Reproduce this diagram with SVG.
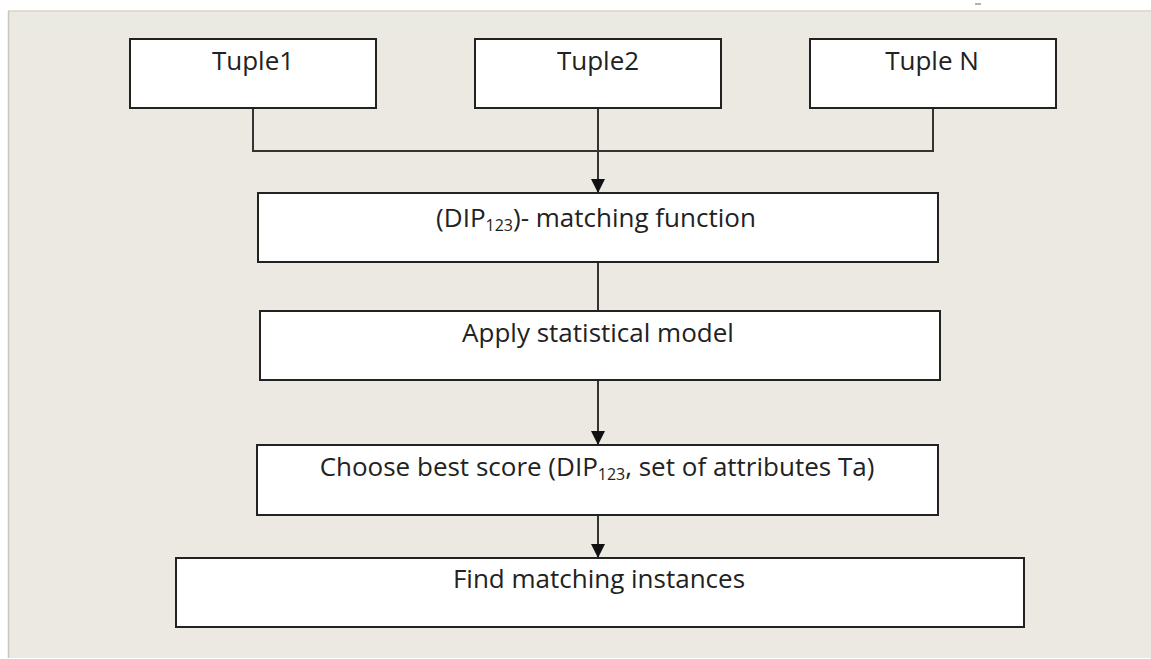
<svg xmlns="http://www.w3.org/2000/svg" width="1151" height="659" viewBox="0 0 1151 659">
<style>
.box{fill:#ffffff;stroke:#222222;stroke-width:2}
.lbl{font-family:"Open Sans","Liberation Sans",sans-serif;font-size:26px;fill:#222222;text-anchor:middle}
.sub{font-size:16px}
.conn{fill:none;stroke:#333333;stroke-width:2}
</style>
<defs>
<marker id="ah" markerUnits="userSpaceOnUse" markerWidth="16" markerHeight="16" viewBox="0 0 16 16" refX="15" refY="8" orient="auto">
<path d="M1,1 L15,8 L1,15 Z" fill="#111111"/>
</marker>
</defs>
<rect x="0" y="0" width="1151" height="659" fill="#ffffff"/>
<rect x="8" y="11" width="1143" height="647" fill="#ECE9E2"/>
<rect x="8" y="11" width="1143" height="16" fill="#EAEAE2"/>
<line x1="8" y1="11" x2="1151" y2="11" stroke="#E2CFCB" stroke-width="1.5"/>
<line x1="8.5" y1="11" x2="8.5" y2="658" stroke="#C9C6C0" stroke-width="1.5"/>
<line x1="975" y1="4" x2="981" y2="4" stroke="#9a9a9a" stroke-width="1.5"/>
<g id="connectors">
<polyline class="conn" points="253,108 253,151 933,151 933,108"/>
<line class="conn" x1="598" y1="108" x2="598" y2="193" marker-end="url(#ah)"/>
<line class="conn" x1="598" y1="262" x2="598" y2="311"/>
<line class="conn" x1="598" y1="380" x2="598" y2="445" marker-end="url(#ah)"/>
<line class="conn" x1="598" y1="515" x2="598" y2="558" marker-end="url(#ah)"/>
</g>
<g id="tuple1">
<rect class="box" x="130" y="39" width="246" height="69"/>
<text class="lbl" x="253" y="70">Tuple1</text>
</g>
<g id="tuple2">
<rect class="box" x="475" y="39" width="246" height="69"/>
<text class="lbl" x="598" y="70">Tuple2</text>
</g>
<g id="tupleN">
<rect class="box" x="810" y="39" width="246" height="69"/>
<text class="lbl" x="932" y="70">Tuple N</text>
</g>
<g id="matching">
<rect class="box" x="258" y="193" width="680" height="69"/>
<text class="lbl" x="596" y="227">(DIP<tspan class="sub" dy="4">123</tspan><tspan dy="-4">)- matching function</tspan></text>
</g>
<g id="statistical">
<rect class="box" x="260" y="311" width="680" height="69"/>
<text class="lbl" x="598" y="342">Apply statistical model</text>
</g>
<g id="bestscore">
<rect class="box" x="257" y="445" width="681" height="70"/>
<text class="lbl" x="597" y="476">Choose best score (DIP<tspan class="sub" dy="4">123</tspan><tspan dy="-4">, set of attributes Ta)</tspan></text>
</g>
<g id="instances">
<rect class="box" x="176" y="558" width="848" height="69"/>
<text class="lbl" x="599" y="588">Find matching instances</text>
</g>
</svg>
